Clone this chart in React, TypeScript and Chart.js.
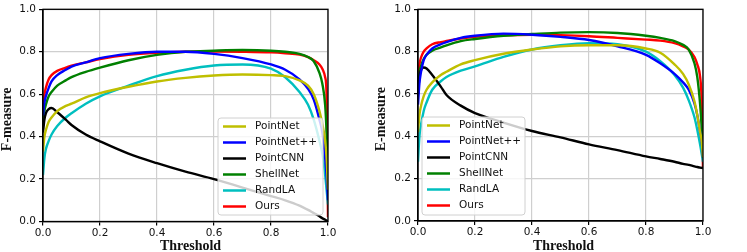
import React, { useEffect, useRef } from "react";
import { Chart, registerables } from "chart.js";
Chart.register(...registerables);

// ---------- data ----------
const thresholds = [0, 0.005, 0.01, 0.02, 0.03, 0.05, 0.08, 0.1, 0.15, 0.2, 0.3, 0.4, 0.5, 0.6, 0.7, 0.8, 0.85, 0.9, 0.93, 0.95, 0.97, 0.98, 0.99, 0.995, 1.0];
const seriesNames = ["PointNet", "PointNet++", "PointCNN", "ShellNet", "RandLA", "Ours"];
const seriesColors = ["#bfbf00", "#0000ff", "#000000", "#008000", "#00bfbf", "#ff0000"];
const xTickValues = [0, 0.2, 0.4, 0.6, 0.8, 1.0];

// F-measure (left panel)
const fPointNet = [0.33, 0.40, 0.43, 0.47, 0.49, 0.52, 0.545, 0.555, 0.585, 0.605, 0.635, 0.66, 0.677, 0.688, 0.693, 0.69, 0.685, 0.665, 0.64, 0.60, 0.52, 0.46, 0.38, 0.30, 0.15];
const fPointNetPP = [0.50, 0.56, 0.59, 0.63, 0.66, 0.69, 0.715, 0.73, 0.75, 0.77, 0.79, 0.80, 0.80, 0.79, 0.77, 0.74, 0.715, 0.67, 0.625, 0.575, 0.48, 0.42, 0.30, 0.22, 0.10];
const fPointCNN = [0.42, 0.48, 0.51, 0.53, 0.535, 0.515, 0.48, 0.455, 0.41, 0.378, 0.32, 0.275, 0.235, 0.20, 0.16, 0.12, 0.10, 0.075, 0.055, 0.04, 0.025, 0.015, 0.008, 0.004, 0.0];
const fShellNet = [0.45, 0.52, 0.55, 0.59, 0.61, 0.64, 0.665, 0.68, 0.705, 0.725, 0.76, 0.785, 0.80, 0.805, 0.808, 0.805, 0.80, 0.79, 0.775, 0.755, 0.70, 0.65, 0.55, 0.42, 0.20];
const fRandLA = [0.22, 0.30, 0.34, 0.38, 0.41, 0.45, 0.49, 0.51, 0.555, 0.59, 0.64, 0.685, 0.715, 0.735, 0.74, 0.72, 0.68, 0.61, 0.55, 0.48, 0.38, 0.32, 0.22, 0.15, 0.08];
const fOurs = [0.55, 0.60, 0.63, 0.67, 0.69, 0.71, 0.725, 0.735, 0.75, 0.765, 0.785, 0.795, 0.80, 0.801, 0.80, 0.797, 0.793, 0.787, 0.775, 0.76, 0.74, 0.72, 0.68, 0.60, 0.02];

// E-measure (right panel)
const ePointNet = [0.42, 0.50, 0.54, 0.59, 0.62, 0.655, 0.69, 0.705, 0.74, 0.76, 0.79, 0.81, 0.825, 0.83, 0.83, 0.815, 0.795, 0.74, 0.695, 0.645, 0.565, 0.50, 0.42, 0.38, 0.30];
const ePointNetPP = [0.55, 0.65, 0.70, 0.76, 0.785, 0.815, 0.835, 0.845, 0.865, 0.875, 0.885, 0.88, 0.87, 0.855, 0.825, 0.785, 0.745, 0.695, 0.655, 0.62, 0.555, 0.50, 0.42, 0.38, 0.30];
const ePointCNN = [0.60, 0.68, 0.71, 0.725, 0.72, 0.69, 0.635, 0.595, 0.545, 0.51, 0.465, 0.425, 0.395, 0.362, 0.335, 0.305, 0.293, 0.28, 0.27, 0.265, 0.258, 0.255, 0.252, 0.251, 0.25];
const eShellNet = [0.60, 0.70, 0.73, 0.765, 0.785, 0.805, 0.82, 0.83, 0.85, 0.86, 0.875, 0.883, 0.89, 0.892, 0.888, 0.875, 0.865, 0.85, 0.832, 0.81, 0.745, 0.68, 0.55, 0.45, 0.30];
const eRandLA = [0.28, 0.40, 0.45, 0.52, 0.56, 0.62, 0.66, 0.68, 0.71, 0.73, 0.775, 0.81, 0.83, 0.84, 0.835, 0.80, 0.755, 0.69, 0.63, 0.57, 0.49, 0.43, 0.36, 0.32, 0.28];
const eOurs = [0.68, 0.74, 0.77, 0.80, 0.815, 0.835, 0.845, 0.85, 0.862, 0.87, 0.877, 0.88, 0.878, 0.873, 0.865, 0.857, 0.852, 0.84, 0.825, 0.81, 0.775, 0.74, 0.68, 0.58, 0.25];

const fSeries = [fPointNet, fPointNetPP, fPointCNN, fShellNet, fRandLA, fOurs];
const eSeries = [ePointNet, ePointNetPP, ePointCNN, eShellNet, eRandLA, eOurs];

// ---------- panels (layout/style) ----------
type Panel = {
  left: number; width: number; height: number;
  plotLeft: number; plotRight: number; plotTop: number; plotBottom: number;
  yTitle: string; series: number[][];
  legend: { x: number; y: number; w: number; h: number };
  xTitleDx: number; yTitleDy: number; yTitleX: number;
};

const panels: Panel[] = [
  {
    left: 0, width: 373, height: 252,
    plotLeft: 43, plotRight: 328, plotTop: 7, plotBottom: 221.5,
    yTitle: "F-measure", series: fSeries,
    legend: { x: 218, y: 118, w: 105, h: 97 },
    xTitleDx: 5, yTitleDy: 4, yTitleX: 7.5,
  },
  {
    left: 373, width: 374, height: 252,
    plotLeft: 45, plotRight: 330, plotTop: 7, plotBottom: 221,
    yTitle: "E-measure", series: eSeries,
    legend: { x: 49, y: 117, w: 103, h: 98 },
    xTitleDx: 3, yTitleDy: 4, yTitleX: 8.5,
  },
];

const SANS = "'DejaVu Sans', sans-serif";
const SERIF = "'Liberation Serif', 'Times New Roman', serif";

function decorPlugin(p: Panel) {
  return {
    id: "decor",
    afterDatasetsDraw(chart: any) {
      const ctx = chart.ctx as CanvasRenderingContext2D;
      const ca = chart.chartArea;
      ctx.save();
      // frame
      ctx.strokeStyle = "#000";
      ctx.lineWidth = 1.3;
      ctx.strokeRect(ca.left, ca.top, ca.right - ca.left, ca.bottom - ca.top);

      // legend
      const L = p.legend;
      ctx.beginPath();
      const r = 3;
      ctx.moveTo(L.x + r, L.y);
      ctx.lineTo(L.x + L.w - r, L.y);
      ctx.quadraticCurveTo(L.x + L.w, L.y, L.x + L.w, L.y + r);
      ctx.lineTo(L.x + L.w, L.y + L.h - r);
      ctx.quadraticCurveTo(L.x + L.w, L.y + L.h, L.x + L.w - r, L.y + L.h);
      ctx.lineTo(L.x + r, L.y + L.h);
      ctx.quadraticCurveTo(L.x, L.y + L.h, L.x, L.y + L.h - r);
      ctx.lineTo(L.x, L.y + r);
      ctx.quadraticCurveTo(L.x, L.y, L.x + r, L.y);
      ctx.closePath();
      ctx.fillStyle = "rgba(255,255,255,0.8)";
      ctx.fill();
      ctx.strokeStyle = "#d0d0d0";
      ctx.lineWidth = 1;
      ctx.stroke();

      ctx.font = `10.5px ${SANS}`;
      ctx.textBaseline = "middle";
      ctx.textAlign = "left";
      chart.data.datasets.forEach((ds: any, i: number) => {
        const yy = L.y + 8.5 + i * 16;
        ctx.strokeStyle = ds.borderColor;
        ctx.lineWidth = 2.5;
        ctx.beginPath();
        ctx.moveTo(L.x + 5, yy);
        ctx.lineTo(L.x + 28, yy);
        ctx.stroke();
        ctx.fillStyle = "#111";
        ctx.fillText(ds.label, L.x + 37, yy);
      });

      // axis titles
      ctx.fillStyle = "#111";
      ctx.font = `bold 14px ${SERIF}`;
      ctx.textAlign = "center";
      ctx.textBaseline = "middle";
      ctx.fillText("Threshold", (ca.left + ca.right) / 2 + p.xTitleDx, 246.5);
      ctx.save();
      ctx.translate(p.yTitleX, (ca.top + ca.bottom) / 2 + p.yTitleDy);
      ctx.rotate(-Math.PI / 2);
      ctx.fillText(p.yTitle, 0, 0);
      ctx.restore();
      ctx.restore();
    },
  };
}

function PanelChart({ p }: { p: Panel }) {
  const ref = useRef<HTMLCanvasElement>(null);
  useEffect(() => {
    if (!ref.current) return;
    const chart = new Chart(ref.current, {
      type: "line",
      data: {
        datasets: p.series.map((vals, i) => ({
          label: seriesNames[i],
          data: thresholds.map((t, j) => ({ x: t, y: vals[j] })),
          borderColor: seriesColors[i],
          backgroundColor: seriesColors[i],
          borderWidth: 2.4,
          pointRadius: 0,
          cubicInterpolationMode: "monotone" as const,
          fill: false,
        })),
      },
      options: {
        responsive: false,
        animation: false,
        devicePixelRatio: 1,
        layout: { padding: { left: 0, right: p.width - p.plotRight, top: p.plotTop, bottom: 0 } },
        plugins: { legend: { display: false }, tooltip: { enabled: false } },
        scales: {
          x: {
            type: "linear",
            min: 0,
            max: 1,
            afterFit: (s: any) => { s.height = p.height - p.plotBottom; },
            afterBuildTicks: (s: any) => { s.ticks = xTickValues.map((v) => ({ value: v })); },
            ticks: {
              font: { family: SANS, size: 10.5 },
              color: "#111",
              padding: 1,
              maxRotation: 0,
              callback: (v: any) => Number(v).toFixed(1),
            },
            grid: { color: "#cfcfcf", lineWidth: 1.2, tickColor: "#000", tickLength: 4 },
            border: { color: "#000", width: 1.3 },
          },
          y: {
            type: "linear",
            min: 0,
            max: 1,
            afterFit: (s: any) => { s.width = p.plotLeft; },
            afterBuildTicks: (s: any) => { s.ticks = xTickValues.map((v) => ({ value: v })); },
            ticks: {
              font: { family: SANS, size: 10.5 },
              color: "#111",
              padding: 3,
              callback: (v: any) => Number(v).toFixed(1),
            },
            grid: { color: "#cfcfcf", lineWidth: 1.2, tickColor: "#000", tickLength: 4 },
            border: { color: "#000", width: 1.3 },
          },
        },
      },
      plugins: [decorPlugin(p)],
    } as any);
    return () => chart.destroy();
  }, [p]);
  return (
    <canvas
      ref={ref}
      width={p.width}
      height={p.height}
      style={{ position: "absolute", left: p.left, top: 0, width: p.width, height: p.height }}
    />
  );
}

export default function App() {
  return (
    <div style={{ position: "fixed", left: 0, top: 0, width: 747, height: 252, background: "#fff", overflow: "hidden" }}>
      {panels.map((p, i) => (
        <PanelChart key={i} p={p} />
      ))}
    </div>
  );
}
